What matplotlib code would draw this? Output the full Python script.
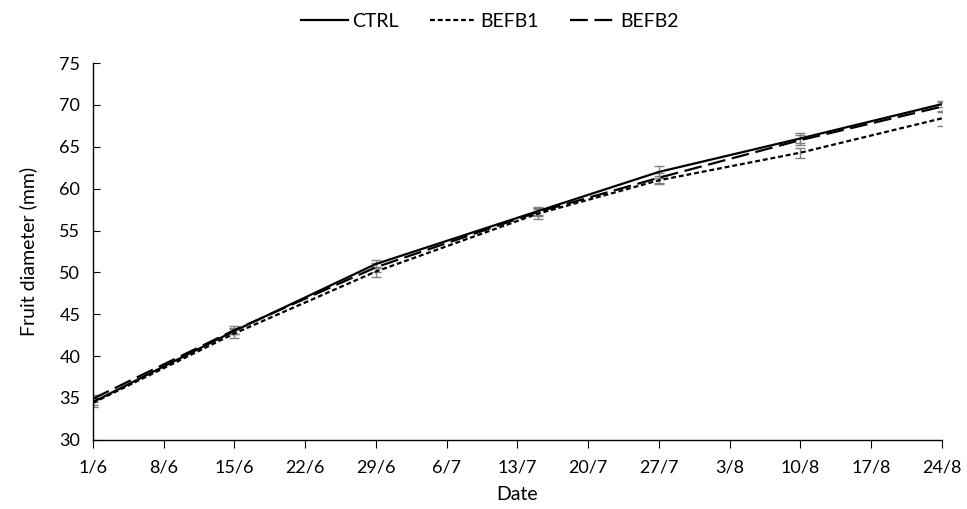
import datetime as dt
import matplotlib
matplotlib.use("Agg")
import matplotlib.pyplot as plt

plt.rcParams["font.family"] = ["Lato", "DejaVu Sans"]

# sampling dates (day/month)
sample_dates = ["1/6", "15/6", "29/6", "15/7", "27/7", "10/8", "24/8"]
tick_dates = ["1/6", "8/6", "15/6", "22/6", "29/6", "6/7", "13/7",
              "20/7", "27/7", "3/8", "10/8", "17/8", "24/8"]

ctrl = [34.5, 43.0, 51.0, 57.3, 62.0, 66.0, 70.1]
ctrl_err = [0.4, 0.4, 0.5, 0.5, 0.7, 0.6, 0.4]
befb1 = [34.4, 42.7, 50.1, 57.0, 61.0, 64.3, 68.4]
befb1_err = [0.5, 0.5, 0.6, 0.6, 0.5, 0.6, 0.9]
befb2 = [34.9, 43.1, 50.6, 57.2, 61.3, 65.8, 69.8]
befb2_err = [0.4, 0.5, 0.5, 0.5, 0.6, 0.6, 0.6]


def to_date(s):
    d, m = s.split("/")
    return dt.date(2019, int(m), int(d))


x = [to_date(s) for s in sample_dates]
ticks = [to_date(s) for s in tick_dates]

fig = plt.figure(figsize=(9.67, 5.09), dpi=100)
ax = fig.add_axes([0.096, 0.136, 0.878, 0.740])

series = [
    ("CTRL", ctrl, ctrl_err, None),
    ("BEFB1", befb1, befb1_err, (0, (2.2, 1.3))),
    ("BEFB2", befb2, befb2_err, (0, (8, 3))),
]
for name, vals, err, dashes in series:
    ax.errorbar(x, vals, yerr=err, fmt="none", ecolor="#808080",
                elinewidth=1.0, capsize=3.5, capthick=1.0, zorder=2)
    line, = ax.plot(x, vals, color="black", lw=1.6, label=name, zorder=3)
    if dashes is not None:
        line.set_linestyle(dashes)

ax.set_xlim(ticks[0], ticks[-1])
ax.set_ylim(30, 75)
ax.set_yticks(range(30, 80, 5))
ax.set_xticks(ticks)
ax.set_xticklabels(tick_dates)

for s in ["top", "right"]:
    ax.spines[s].set_visible(False)
for s in ["left", "bottom"]:
    ax.spines[s].set_color("black")
    ax.spines[s].set_linewidth(1.0)

ax.tick_params(axis="x", direction="out", length=6, labelsize=13, pad=8)
ax.tick_params(axis="y", direction="in", length=5, labelsize=13, pad=9)

ax.set_xlabel("Date", fontsize=14, labelpad=8)
ax.set_ylabel("Fruit diameter (mm)", fontsize=14, labelpad=16)

ax.legend(loc="center", bbox_to_anchor=(0.468, 1.11), ncol=3,
          frameon=False, fontsize=14, handlelength=2.4, handletextpad=0.2,
          columnspacing=1.6)

fig.savefig("out.png", dpi=100)
